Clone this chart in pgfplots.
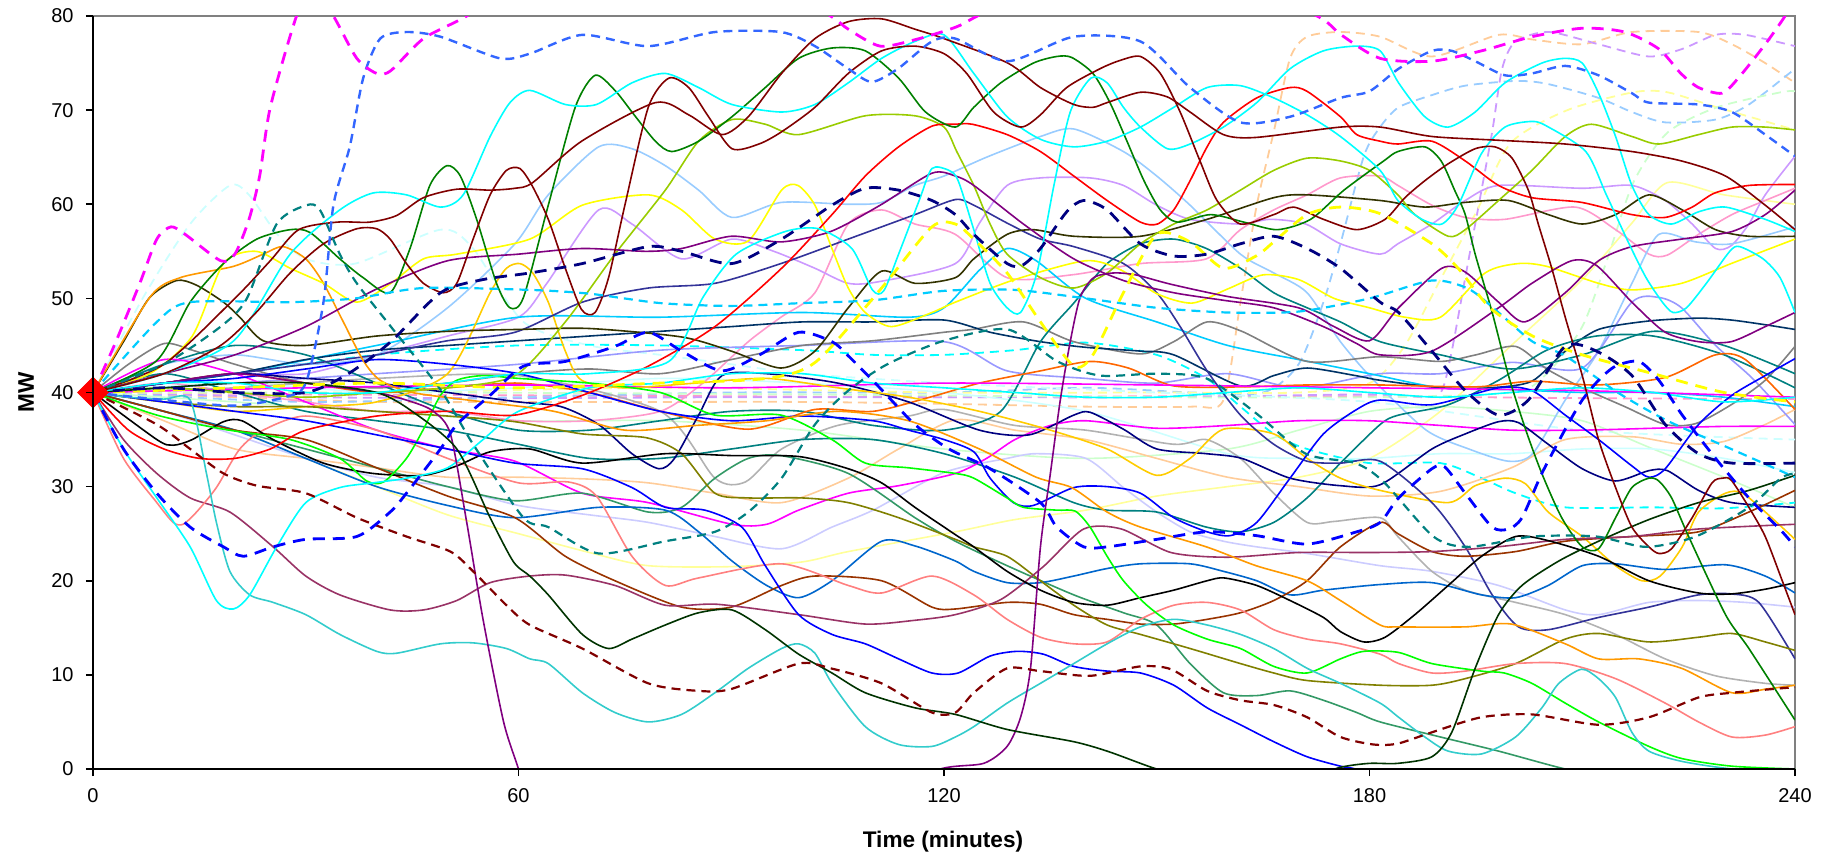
\documentclass[border=0pt]{standalone}
\usepackage{pgfplots}
\pgfplotsset{compat=1.18}
\usepackage{fontspec}
\setmainfont{Liberation Sans}
\definecolor{cMag}{HTML}{FF00FF}
\definecolor{cRoy}{HTML}{3366FF}
\definecolor{cTeal}{HTML}{008080}
\definecolor{cPaleC}{HTML}{CCFFFF}
\definecolor{cSky}{HTML}{00CCFF}
\definecolor{cDOl}{HTML}{333300}
\definecolor{cOra}{HTML}{FF9900}
\definecolor{cGrn}{HTML}{008000}
\definecolor{cCyan}{HTML}{00FFFF}
\definecolor{cDRed}{HTML}{800000}
\definecolor{cTurq}{HTML}{33CCCC}
\definecolor{cPlum}{HTML}{993366}
\definecolor{cBlue}{HTML}{0000FF}
\definecolor{cNavy}{HTML}{000080}
\definecolor{cSalm}{HTML}{FF8080}
\definecolor{cPurp}{HTML}{800080}
\definecolor{cDGrn}{HTML}{003300}
\definecolor{cLime}{HTML}{00FF00}
\definecolor{cYel}{HTML}{FFFF00}
\definecolor{cYG}{HTML}{99CC00}
\definecolor{cLBlue}{HTML}{99CCFF}
\definecolor{cRed}{HTML}{FF0000}
\definecolor{cPink}{HTML}{FF99CC}
\definecolor{cLav}{HTML}{CC99FF}
\definecolor{cPeach}{HTML}{FFCC99}
\definecolor{cLYel}{HTML}{FFFF99}
\definecolor{cLGrn}{HTML}{CCFFCC}
\definecolor{cOlive}{HTML}{808000}
\definecolor{cGray}{HTML}{808080}
\definecolor{cSilv}{HTML}{B2B2B2}
\definecolor{cBrown}{HTML}{993300}
\definecolor{cSea}{HTML}{339966}
\definecolor{cDTeal}{HTML}{003366}
\definecolor{cIndigo}{HTML}{333399}
\definecolor{cGold}{HTML}{FFCC00}
\definecolor{cOra2}{HTML}{FF6600}
\definecolor{cPeri}{HTML}{9999FF}
\definecolor{cLLav}{HTML}{CCCCFF}
\definecolor{cOcean}{HTML}{0066CC}
\pgfplotsset{
  ln/.style={line width=0.8pt},
  dsh/.style={line width=0.9pt, dash pattern=on 4.5pt off 3pt},
  tdsh/.style={line width=1.4pt, dash pattern=on 6pt off 4pt},
}
\begin{document}
\begin{tikzpicture}
\useasboundingbox (-46.5pt,-44pt) rectangle (864.5pt,384.5pt);
\draw[cGray, line width=1pt] (0,376.5pt) -- (851pt,376.5pt) -- (851pt,0);
\begin{axis}[
  at={(0,0)}, anchor=south west,
  width=851pt, height=376.5pt, scale only axis,
  xmin=0, xmax=240, ymin=0, ymax=80,
  xtick={0,60,120,180,240}, ytick={0,10,...,80},
  axis lines*=left,
  axis on top,
  axis line style={black, line width=1pt},
  tick align=outside, major tick length=3.5pt,
  tick style={black, line width=0.8pt},
  ticklabel style={font=\fontsize{10}{12}\selectfont},
  /pgf/number format/assume math mode=true,
  xticklabel style={anchor=north, inner sep=0pt, yshift=-6pt},
  yticklabel style={anchor=east, inner sep=0pt, xshift=-6pt},
  clip mode=individual,
  every axis plot/.append style={mark=none, smooth, tension=0.45},
]
% pastel dashed lines in the bundle
\addplot[dsh, cPink] coordinates {(0,40)(30,39.8)(60,39.7)(90,39.6)(120,39.5)(150,39.6)(180,39.6)(210,39.4)(240,39.3)};
\addplot[dsh, cPeach] coordinates {(0,40)(20,39.5)(40,39)(60,39)(80,39)(100,39)(120,38.8)(140,38.5)(155,38.5)(159.4,39.2)(161.8,49.6)(164.1,59.9)(166.5,67.7)(168.8,75.5)(171.2,77.8)(175.9,78.3)(181.5,77.8)(188.8,75.7)(198.2,78)(203,77.5)(210,77)(217,78.3)(226.4,78.3)(231.1,77)(235.8,75)(240,72.9)};
\addplot[dsh, cLav] coordinates {(0,40)(30,39.5)(60,39.4)(90,39.5)(120,39.5)(150,39.5)(180,39.8)(188,39.5)(190.2,40.2)(191.6,44.4)(193.5,52.2)(195.4,59.9)(197.3,67.7)(198.7,74.4)(200.6,77.3)(205.3,78.3)(212.3,77)(219.4,75.7)(224.1,76.5)(228.8,78)(233,78)(240,76.8)};
\addplot[dsh, cLBlue] coordinates {(0,40)(30,39)(60,39.5)(90,40)(120,40)(140,40.5)(155,40)(165,40)(170,43)(173.5,49.6)(175.9,55.8)(179.2,65.1)(181.5,68.2)(184.1,70.3)(188.8,71.6)(193.5,72.6)(200.6,73.1)(205,72.8)(212.3,71.3)(217,69.8)(221.7,68.7)(228.8,69)(233.5,70.6)(240,74.4)};
\addplot[dsh, cLYel] coordinates {(0,40)(40,40)(80,40.5)(120,40)(150,40)(170,40)(180,41)(185,45)(190,52)(195.2,59.4)(199.9,66.5)(207.9,70)(217.2,71.9)(222,71.9)(229,70.3)(240,67.9)};
\addplot[dsh, cLGrn] coordinates {(0,40)(50,40)(100,39.8)(150,39.5)(180,39.5)(200,40)(205,42)(210,47)(213.5,54.1)(217.2,62.3)(222,67.6)(229,70.3)(238,71.9)(240,72)};
\addplot[dsh, cPaleC] coordinates {(0,40)(7,50)(13.7,57.9)(19.3,62)(22,61)(26,56.8)(30,54.2)(37,53.7)(49,57.3)(53.6,55.3)(60.7,47.5)(70,45)(80,44)(90,43)(100,42)(120,41)(150,40)(180,39)(210,36)(240,35)};
\addplot[dsh, cCyan] coordinates {(0,40)(20,42)(40,44)(60,45)(80,45)(100,44.5)(110,44)(120,44)(130,44.5)(140,45.3)(150,44)(157,41.5)(161.8,38.5)(166.5,35.6)(171.2,34)(180,32.5)(190,32.5)(195.8,30.9)(200.6,29.3)(207.6,27.8)(220,27.8)(230,27.7)(240,28.3)};
% pastel solid lines
\addplot[ln, cLYel] coordinates {(0,40)(10,38)(20,36)(30,33)(40,30)(50,27)(60,25)(70,23)(78.3,21.6)(90,21.5)(100,22)(106.5,23.1)(121.6,25.2)(130,26.5)(140,27.5)(150,29)(160,30)(170,31)(180,33)(190,38)(200,45)(210,52)(217,58)(222,62.3)(230,61)(240,60)};
\addplot[ln, cLGrn] coordinates {(0,40)(20,39)(40,38)(60,37)(80,37)(100,36)(120,34)(140,33)(160,34)(170,36)(180,38)(190,38.5)(200,38)(210,37)(220,34)(230,31)(240,27.8)};
\addplot[ln, cPaleC] coordinates {(0,40)(20,41)(40,40)(60,40.5)(80,41.5)(100,41)(120,40)(140,38)(160,33.5)(170,33)(180,33)(190,33.5)(200,33.5)(210,34)(220,34)(230,33)(240,31.5)};
\addplot[ln, cPeach] coordinates {(0,40)(10,37)(20,34)(30,33)(40,32)(50,31)(60,31)(70,30.8)(78.3,30.4)(87.7,29.3)(97.1,28.3)(106.5,30.9)(113.6,34)(121.6,37.1)(130,36)(140,35)(150,33)(160,31)(170,30)(180,29)(190,29.5)(200,32)(207.6,35)(217,35.3)(224,34.5)(230,34.8)(235.8,36.6)(240,38.2)};
\addplot[ln, cLLav] coordinates {(0,40)(10,38)(20,35.5)(30,33)(40,31)(50,30)(60,28)(70,27)(78.3,26.2)(87.7,24.7)(97.1,23.4)(104.2,25.7)(110,27.5)(120,31.5)(128.9,33)(133,33.5)(140,33)(145.3,29.9)(150,27.3)(154.7,25.2)(159.4,24.2)(164.1,23.6)(171.2,22.9)(181.5,21.6)(188.8,21)(198.2,19.5)(207.6,16.9)(212.3,16.4)(219.4,17.7)(226.4,17.9)(233,17.7)(240,17.2)};
\addplot[ln, cPink] coordinates {(0,40)(10,41)(20,40)(30,39)(40,38)(50,38)(60,37)(70,37)(80,38)(86,41)(92.4,45.4)(97,48)(101.8,50.6)(106.5,57.9)(111.2,59.4)(115.9,57.9)(121.6,56.8)(128.9,52.2)(138,52.5)(147.7,53.7)(157,54.2)(161.8,57.3)(166.5,59.4)(171.2,61)(175.9,62.8)(181.5,63)(184,62)(188.8,59.9)(193.5,58.6)(199.1,58.4)(209,59.7)(214.7,57.3)(219.4,54.7)(222,54.6)(226.4,56.8)(231.1,58.9)(235.8,60.4)(240,61.7)};
\addplot[ln, cLav] coordinates {(0,40)(10,41)(20,42)(30,42)(40,44)(50,46)(60,48)(64,51.6)(71.3,59.4)(76,57.9)(83,54.2)(90.1,56.3)(96,55)(101.8,53.2)(106.5,51.6)(111,51.8)(121.6,53.7)(125,58)(128.9,62)(133.6,62.8)(140.6,62.8)(145.3,62)(150,59.9)(154.7,58.4)(161.8,57.9)(166,58.4)(171,57.9)(175.9,55.8)(181.5,54.7)(184,55.8)(188.8,57.9)(193.5,60.4)(198.2,62)(210,61.7)(217,62)(221.7,60.4)(225.5,57.9)(228.8,55.3)(231,55.6)(233.5,57.9)(235.8,61)(240,65.1)};
\addplot[ln, cLBlue] coordinates {(0,40)(10,43)(20,44)(30,43)(40,44)(50,49)(59.5,55.8)(64.2,61)(71.3,66.1)(76,65.9)(80.7,64.1)(85.4,61.5)(90.1,58.6)(97.1,60.2)(106.5,60)(111.2,60.2)(115.9,62)(120,63)(126,65)(133.6,67.2)(138.3,68)(145.3,65.6)(150,63)(154.7,59.9)(161.8,54.7)(166.5,52.7)(171.2,50.6)(175.9,45.4)(180.6,41.3)(188,36)(194,34)(199.6,32.7)(203,33.5)(207.6,39.2)(212.3,44.4)(217,51.6)(220.8,56.8)(226,56)(231.1,55.8)(240,57.6)};
\addplot[ln, cPeri] coordinates {(0,40)(20,41)(40,42)(60,43)(80,44.5)(100,45)(120,45.4)(128.9,42.3)(140,41.5)(150,41)(160,42)(170,40.5)(181.5,42)(190,42)(200,43.2)(210,42.6)(217,49.6)(220.8,50.1)(224,49)(228.8,45)(234,41.5)(240,36.6)};
\addplot[ln, cSilv] coordinates {(0,40)(20,40.5)(40,41.5)(60,41.8)(80,38)(87.7,30.9)(92,30.5)(97.1,34)(105,36.5)(115,37.5)(120,38.2)(130,36.5)(140,36)(152.4,34.5)(157,35)(161.8,33)(166.5,29.3)(171.2,26.2)(175,26.3)(181.5,26.7)(184,24.7)(188.8,21)(193.5,19)(200.6,17.7)(207.6,16.4)(214.7,14.3)(221.7,11.7)(228.8,9.9)(235.8,9.1)(240,8.9)};
\addplot[ln, cSky] coordinates {(0,40)(20,42)(40,45)(60,48)(80,48)(100,48.5)(115,48)(120,49)(125,53)(128.9,55.3)(133,54)(140,50)(150,47.5)(160,45)(170,43.5)(180,42)(190,40.5)(200,40.3)(210,40)(220,40)(230,39.5)(240,38.5)};
% mid-bundle solid lines
\addplot[ln, cGray] coordinates {(0,40)(5,43)(10,45.2)(14,44.5)(20,43)(30,41)(40,40.5)(50,41)(60,42)(70,42.5)(80,42)(90,43.5)(100,45)(110,45.5)(120,46.4)(124,46.7)(131.2,47.5)(138.3,45.4)(147.7,44.1)(152.4,45.4)(157.1,47.5)(162,46.5)(171.2,43.3)(181.5,43.8)(190,43.3)(195,44)(200.6,44.9)(205,42.5)(210,40.5)(216,38.5)(221.7,36.6)(226,36.7)(231,38.7)(235.8,41.3)(240,44.9)};
\addplot[ln, cDTeal] coordinates {(0,40)(10,41)(20,42)(30,43.5)(40,44.5)(50,45)(60,45.5)(70,46)(80,46.5)(90,47)(100,47.5)(110,47.5)(120,47.7)(126.5,46.4)(133.6,45.4)(140,44.8)(147.7,44.4)(152.4,44)(161.8,40.7)(166.5,41.8)(171.2,42.6)(178,41.8)(181.5,41.3)(190,40.5)(197,40.5)(202.9,41.2)(207.6,44.4)(212.3,46.7)(219.4,47.6)(226.4,47.9)(231,47.7)(235.8,47.2)(240,46.7)};
\addplot[ln, cTeal] coordinates {(0,40)(10,43)(20,45)(30,44)(40,41)(50,38)(60,36)(70,36)(80,37)(90,38)(100,38)(110,36.5)(120,36)(128,38)(133.6,45.4)(138.3,49.5)(143,53.7)(147.7,55.8)(152.4,56.3)(157,55.3)(161.8,53.2)(166.5,50.6)(171.2,49)(175.9,47.5)(181.5,45.4)(190,44)(200,42.5)(210,44)(220,46.5)(230,45)(240,42)};
\addplot[ln, cTeal] coordinates {(0,40)(10,42)(20,40)(30,38)(40,37)(50,36)(60,34.5)(70,33)(80,33)(90,34)(100,35)(110,35)(120,33.5)(130,31)(138.3,28.3)(143,27.5)(150,27.3)(157,25.7)(161.8,25.2)(166.5,26.2)(171.2,28.8)(175.9,32.5)(181.5,36.6)(184.1,37.6)(191.1,38.7)(198.2,41.3)(205,44.5)(212,46)(220,46)(230,44)(240,40.5)};
\addplot[ln, cOra2] coordinates {(0,40)(10,41)(20,42)(30,41)(40,40)(50,40.5)(60,41)(70,40)(80,38)(92.4,36.1)(101.8,38.2)(110,38)(118,39.5)(125,41)(133.6,42.3)(140.6,43.3)(146,42.6)(152.4,40.7)(162,40.6)(171.2,40.8)(181.5,40.8)(195,40.6)(202.9,41.2)(212,40.8)(221.7,41.6)(228.8,44)(233,43.5)(240,38.2)};
\addplot[ln, cMag] coordinates {(0,40)(30,40.5)(60,40.8)(90,40.5)(120,41)(150,40.8)(180,40.5)(210,40.2)(240,39.5)};
\addplot[ln, cMag] coordinates {(0,40)(10,43.5)(20,42)(30,39)(40,36)(50,34)(59.5,32.7)(69,29.3)(78.3,28.3)(90.1,26)(95,26)(99.5,27.5)(106.5,29.3)(113.6,30.1)(121.6,31.4)(126,33)(130,35)(135,36.5)(140,37)(150,36.2)(160,36.5)(170,37)(180,37)(190,36.5)(200,36)(210,36)(220,36.2)(230,36.4)(240,36.4)};
\addplot[ln, cNavy] coordinates {(0,40)(10,41)(20,42)(30,41.5)(40,41)(50,40)(60,39)(66,38.5)(71.3,36.6)(76,33.5)(79.8,31.9)(82,33)(85.4,37.6)(88.7,41.8)(95,42)(105,41)(115,39)(125,36)(132,35.5)(138.3,37.6)(140.6,37.9)(145.3,36.1)(150,34)(157,33.5)(162,33)(168.8,30.9)(175.9,30.1)(181.5,30.2)(188.8,34)(193.5,35.6)(198.2,36.9)(201,36.8)(205.2,34.5)(210,31.9)(214.7,30.6)(219.4,31.7)(222,31.7)(226.4,29.6)(231.1,28.3)(240,27.8)};
\addplot[ln, cGold] coordinates {(0,40)(10,39)(20,38)(30,38.5)(40,39)(50,42)(56,50.6)(58.3,53.2)(60.2,53.7)(62,52.7)(64.2,49.6)(66.6,44.4)(68.9,41.3)(75,40.5)(85,41)(95,41.5)(105,40.5)(115,39.5)(125,38)(135,36)(143,34)(150,31.2)(154.7,33)(159.4,36.1)(166.5,35.6)(171.2,33)(175.9,30.9)(181.5,29.6)(191.1,28.3)(194.9,30.1)(199.1,30.9)(202,30.3)(205.2,27.3)(210,24.7)(214.7,21.6)(218.4,20)(221,20.5)(224.1,23.6)(226.4,27.3)(230.2,29.3)(233,29.1)(240,24.4)};
\addplot[ln, cIndigo] coordinates {(0,40)(10,41)(20,42)(30,43)(40,44)(50,45.5)(59.5,46.4)(69,49.6)(78.3,51.1)(87.7,51.6)(97,53.7)(106.5,56.3)(115.9,58.9)(121.6,60.5)(124.2,59.9)(128.9,58)(133.6,56.3)(138.3,55.5)(145.3,53.7)(150,50.6)(153.3,47)(157.1,42.3)(161.8,37.6)(166.5,34.5)(171.2,32.7)(175.9,32.5)(181.5,32.7)(188.8,28.3)(193.5,23.6)(197.3,18.5)(201,15.1)(205.2,14.8)(212.3,16.1)(219.4,17.2)(226.4,18.5)(231,18.6)(234.9,17.7)(240,11.7)};
\addplot[ln, cBlue] coordinates {(0,40)(10,41)(20,41.5)(30,42.5)(40,43.5)(50,43)(60,42)(70,40)(80,38)(90,37)(100,37.5)(110,37)(115,36)(120,35)(124.2,33.7)(126.5,30.9)(129.8,28.3)(132.6,28)(138.3,29.9)(143,30)(147.7,29.3)(152.4,26.7)(157.1,25.2)(160.4,24.8)(164.1,26.2)(168.8,30.9)(173.5,35.6)(178.2,38.2)(181.5,39.2)(188.8,38.7)(198.2,40.5)(202.9,40.2)(207.6,37.6)(212.3,35)(217,32.2)(219.4,31)(221.7,31.9)(226.4,36.6)(231.1,39.7)(235.8,41.8)(240,43.6)};
\addplot[ln, cSea] coordinates {(0,40)(10,38)(20,36)(30,34)(40,32)(50,30)(59.5,28.5)(69,29.3)(78.3,27.3)(83,27.8)(87.7,30.9)(92.4,33)(97,33.3)(106.5,31.4)(115.9,26.7)(121.6,24.2)(128.9,21.6)(138.3,18.5)(145.3,16.6)(150,15.3)(154.7,11.2)(159.4,8.1)(164.1,7.8)(168.8,8.3)(173.5,7.3)(178.2,6)(181.5,5)(190,3.4)(198.2,1.9)(207.6,0)(215,-1)};
\addplot[ln, cOcean] coordinates {(0,40)(10,38)(20,36)(30,33)(40,30)(50,28)(59.5,26.7)(71.3,27.8)(80.7,27.5)(85.4,25.2)(90.1,22.1)(95,19.5)(99.5,18.2)(104.2,20)(111.2,24.2)(115.9,23.7)(121.6,22.1)(124.2,21)(128.9,19.8)(133.6,19.8)(138.3,20.5)(143,21.3)(147.7,21.8)(154.7,21.8)(159.4,21)(164.1,20)(168.8,18.5)(173.5,19)(181.5,19.6)(188.8,19.8)(195.8,18.5)(200.6,18.2)(205.2,19.5)(210,21.6)(214.7,21.8)(221.7,21.2)(230.2,21.7)(235.8,20.5)(240,18.7)};
\addplot[ln, cBrown] coordinates {(0,40)(10,38)(20,36)(30,35)(40,32)(50,29)(59.5,26.7)(66.6,22.6)(73.6,20)(83,17.2)(90,17.2)(97.1,19.5)(101.8,20.5)(111.2,20)(118.3,17.2)(121.6,17)(128.9,17.7)(133.6,17.5)(138.3,16.4)(143,15.9)(147.7,15.4)(152.4,15.4)(157.1,15.9)(161.8,16.6)(166.5,17.9)(171.2,20)(175.9,23.6)(181.5,26.2)(184,25)(188.8,23.1)(193.5,22.6)(200.6,23.1)(207.6,24.2)(217,24.7)(226.4,25.2)(233.5,27.3)(240,29.6)};
\addplot[ln, cOlive] coordinates {(0,40)(10,39)(20,38.5)(30,38.5)(40,38)(50,37.5)(59.5,36.9)(69,35.6)(78,35.2)(83,33.5)(87.7,29.3)(92.4,28.8)(100,28.8)(106.5,28.3)(113.6,26.7)(121.6,24.4)(124.2,23.6)(128.9,22.6)(133.6,20)(138.3,17.4)(143,15.3)(147.7,14.3)(154.7,12.8)(161.8,11.2)(166.5,10.2)(171.2,9.4)(181.5,8.9)(188.8,8.9)(193.5,9.6)(200.6,11.2)(207.6,13.8)(212.3,14.4)(219.4,13.5)(226.4,14)(231.1,14.4)(235.8,13.5)(240,12.6)};
\addplot[ln, cPlum] coordinates {(0,40)(4.3,35)(9,31.4)(13.7,28.8)(19.3,27.3)(25.4,23.6)(30,20.5)(34.8,18.5)(41.9,16.9)(46.6,16.9)(51.3,17.9)(56,19.8)(61.6,20.5)(66.6,20.6)(73.6,19.5)(80.7,17.4)(88,17.5)(99.5,16.4)(108.9,15.4)(115.9,15.8)(121.6,16.4)(128,18)(134,21.5)(139.7,25.5)(145,25.5)(152,23)(160,22.5)(170,23)(180,23)(188.8,23.1)(198,23.6)(207.6,24.4)(217,24.7)(226.4,25.5)(240,26)};
\addplot[ln, cSalm] coordinates {(0,40)(4.3,33)(9,28.3)(11.3,26.2)(12.7,26)(14.6,27.3)(17.4,29.9)(20.7,34)(24,36)(30,37.5)(40,36)(50,33)(60,30.4)(67,30.5)(71,29)(76,22.6)(80.7,19.5)(85.4,20.3)(97.1,21.8)(106.5,19.5)(111.2,18.7)(118.3,20.5)(124.2,18.5)(128.9,15.9)(133.6,14)(138.3,13.3)(143,13.5)(147.7,15.9)(152.4,17.4)(157.1,17.7)(161.8,16.9)(166.5,14.8)(171.2,13.8)(175.9,13.3)(181.5,12.2)(184.1,11.2)(188.8,10.2)(193.5,10.4)(200.6,11.2)(207.6,11.2)(214.7,9.6)(221.7,7)(226.4,5)(231.1,3.4)(235.8,3.6)(240,4.5)};
\addplot[ln, black] coordinates {(0,40)(9,35)(11.3,34.4)(14,35)(18.4,36.9)(21,37)(25.4,35)(32.5,32.5)(39.5,31.4)(46.6,31.2)(51.3,32.2)(56,33.7)(61.6,34)(69,32.5)(80.7,33.5)(90,33.3)(99.5,33.2)(106.5,31.9)(111.2,30.4)(115.9,27.8)(121.6,24.9)(124.2,23.6)(128.9,21)(133.6,19)(138.3,17.7)(143,17.4)(147.7,18.2)(152.4,19)(157.1,20)(159.5,20.3)(164.1,19.5)(168.8,17.9)(173.5,16.1)(175.9,14.6)(179.2,13.5)(182.2,14)(186.4,16.4)(191.1,19.5)(195.8,22.6)(200.6,24.7)(205,24.3)(212.3,22.6)(219.4,20)(226.4,18.7)(231,18.6)(235.8,19.1)(240,19.8)};
\addplot[ln, cLime] coordinates {(0,40)(9,37.6)(18.4,36.1)(27.8,35)(34.8,33)(38.6,30.6)(41,30.5)(44.2,33)(46.6,36.1)(49,39.7)(51.3,41.3)(55,41.8)(60,41.5)(70,41)(80,40)(87.7,37.6)(97,37.6)(104.2,35)(108.9,32.5)(115,32)(121.6,31.4)(124.2,30.9)(128.9,28.8)(131.2,27.8)(135.9,27.5)(138.5,27.4)(140.6,25.7)(143,22.6)(145.3,20)(148.6,17.4)(152.4,15.3)(157.1,13.8)(161.8,12.8)(166.5,10.9)(171.2,10.2)(175.9,11.7)(179.2,12.5)(184,12.4)(188.8,11.2)(195.8,10.4)(199,10.2)(202.9,9.1)(207.6,7)(212.3,5)(219.4,2.4)(224.1,1.1)(231.1,0.3)(240,0)};
\addplot[ln, cBlue] coordinates {(0,40)(10,39)(20,38)(30,37)(40,35.5)(50,34)(59.5,32.5)(69,31.9)(76,29.9)(80.7,27.8)(86.3,27.5)(91.5,25.7)(94.8,21.6)(99.5,16.4)(104.2,14.3)(108.9,13.3)(113.6,11.7)(118.3,10.2)(122,10.2)(126.5,12)(130.3,12.5)(134,12.2)(138.3,10.9)(143,10.4)(147.7,10.2)(152.4,8.9)(157.1,6.5)(161.8,4.7)(166.5,2.9)(171.2,1.3)(175.9,0.3)(178,0)(185,-1.5)};
\addplot[ln, cTurq] coordinates {(0,40)(5,39.5)(10,39.3)(13.7,39.2)(16,31.4)(17.4,26.2)(19.3,21)(22.1,18.5)(25.4,17.7)(30,16.4)(34.8,14.3)(40,12.5)(42.8,12.3)(49,13.3)(53.6,13.4)(58.3,12.8)(61.6,11.7)(64.2,11.2)(69,8.1)(73.6,6)(78.3,5)(83,5.8)(87.7,8.1)(92.4,10.7)(97.1,12.8)(99.5,13.3)(101.8,12.3)(104.2,9.1)(108.9,4.5)(113.6,2.6)(118.3,2.4)(121.6,3.4)(124.2,4.5)(128.9,7)(133.6,9.1)(138.3,11.2)(143,13.3)(147.7,15.1)(152.4,15.9)(157.1,15.3)(161.8,14.3)(166.5,12.8)(171.2,10.7)(175.9,9.1)(181.5,7)(184.1,5.5)(187.8,3.4)(191.1,1.9)(195.8,1.6)(200.6,3.4)(204.3,6.5)(206.7,9.1)(209.9,10.6)(212.3,9.6)(214.7,7.6)(217,3.9)(219.4,1.9)(224.1,0.8)(231.1,0)(240,-0.5)};
\addplot[ln, cCyan] coordinates {(0,40)(4.3,34)(9,28.8)(13.7,23.6)(17.4,17.9)(19.8,17)(22.1,18.5)(25.9,23.6)(30,28.3)(34.8,29.9)(39.5,30.4)(44.2,30.9)(50,32)(55,35)(60,38)(70,40.5)(80,41)(90,42)(100,42)(110,41)(120,40.5)(130,40)(140,39.5)(150,39.5)(160,40)(170,40.5)(180,40)(190,39.5)(200,40)(210,40.5)(220,40)(230,39)(240,39.5)};
% distinctive lines
\addplot[ln, cDOl] coordinates {(0,40)(4.3,45.4)(8,50.1)(11.8,51.9)(14.6,51.4)(18.4,49.6)(20.7,48)(24,45.5)(30,45)(40,46)(50,46.5)(60,46.7)(70,46.8)(83,45.9)(90,44.4)(97,42.6)(101.8,44.4)(106.5,49)(111.2,52.9)(115.9,51.6)(121.6,52.2)(124.2,54.2)(128.9,56.8)(132.6,57.3)(138.3,56.6)(147.7,56.6)(157.1,58.4)(166.5,60.7)(171.2,61)(181.5,60.4)(187.8,59.7)(193.5,60.2)(199.6,60.4)(205.2,58.9)(210,57.9)(214.7,58.9)(219.4,61)(224.1,59.4)(228.8,57.3)(233.5,56.6)(240,56.6)};
\addplot[ln, cOra] coordinates {(0,40)(8,50.1)(12.3,52.2)(19.8,53.4)(24,54.7)(26.8,55.5)(30,54.2)(32.5,51.6)(35.3,47.5)(38.1,43.4)(40.5,41.3)(45,40)(55,39)(65,38)(75,36)(85,36.5)(95,37)(105,38)(115,37)(125,34)(133,31)(138,29.9)(143,27.3)(147.7,25.7)(157,23.6)(164,21.6)(171.2,20)(175.9,17.9)(181.5,15.3)(184.1,15.1)(193.5,15.1)(200,15.4)(207.6,13.3)(212.3,11.7)(218,11.7)(224,10.7)(231.1,8.1)(236,8.5)(240,8.9)};
\addplot[ln, cYel] coordinates {(0,40)(8,42)(14,46)(18.4,53.7)(23,55)(27.8,53.2)(32.5,51.6)(37.2,49.6)(42,51.6)(46.6,54.2)(51.3,54.7)(61.6,56.3)(69,59.9)(78.3,61)(83,59.4)(87.7,56.3)(92.4,56.1)(97.1,61.5)(99.4,62)(101.8,59.9)(104.2,55.3)(106.5,51.1)(108.9,48.5)(112.6,47)(118.3,48.5)(121.6,49.6)(130,52)(140,54)(145,53)(150,50.5)(155,49.5)(160,51)(165,52.5)(170,52)(175,50)(180,49)(185,48)(190,48)(196.3,52.7)(201,53.7)(205,53.4)(212.3,51.6)(217,50.9)(224,51.6)(231,53.7)(240,56.3)};
\addplot[ln, cYG] coordinates {(0,40)(10,40.5)(20,40)(30,39.5)(40,40)(50,40.5)(59.5,41.8)(66.6,47.5)(73.6,54.7)(80.7,61.5)(85.4,66.7)(90.1,69)(94.8,68.5)(99.5,67.4)(108.9,69.4)(115.9,69.4)(120,68.2)(121.8,65.6)(124.2,62)(126.5,57.9)(128.9,54.7)(133.6,52.2)(138.3,51.1)(143,52.7)(147.7,55.8)(152.4,57.9)(157.1,59.4)(161.8,61.5)(166.5,63.6)(171.2,64.9)(175.9,64.6)(180,63.6)(184,61)(186.4,58.9)(191.1,56.6)(193.5,57.3)(198.2,60.4)(202.9,63.6)(207.6,67.2)(211.3,68.5)(217,67.2)(220.8,66.4)(226.4,67.4)(231.1,68.2)(235.8,68.2)(240,67.9)};
\addplot[ln, cRed] coordinates {(0,40)(5,36)(10,34)(15,33)(20,33)(25,34)(30,36)(40,37.5)(50,38)(59.5,37.6)(69,39.7)(78.3,42.8)(87.7,47)(97.1,53.2)(104.2,58.9)(108.9,63)(113.6,66.1)(118.3,68.3)(121.6,68.5)(124,68.5)(128.9,67.4)(133.6,65.6)(138.3,63)(143,60.4)(147.7,58.1)(150.1,57.9)(152.4,59.4)(154.7,62.5)(157.1,66.1)(159.4,68.7)(164.1,71.3)(168.8,72.4)(171.2,72)(175.9,69.3)(178.2,67.4)(181.5,66.7)(184,66.4)(188.8,66.7)(193.5,64.6)(198.2,62)(202.9,60.7)(209.9,60.2)(217,58.9)(221.7,58.6)(225.5,59.7)(228.7,61.2)(233.5,62)(240,62.1)};
\addplot[ln, cPurp] coordinates {(0,40)(10,42)(20,44)(30,47)(40,51)(50,54)(60,54.7)(69,55.3)(78,55)(83,55.3)(90,56.6)(97,56)(104,57.1)(111,59.9)(118.3,63.3)(121.6,63)(124.2,62)(131.2,57.9)(138.3,54.2)(145.3,51.9)(152.4,50.6)(159.4,49.8)(166.5,49)(173.5,47)(178.2,45.2)(181.5,44)(188.8,44.4)(198.2,49)(202.9,51.6)(208.5,54)(212,53.5)(217,49.6)(221.7,46.4)(226.4,45.4)(231,45.4)(235.8,47)(240,48.5)};
\addplot[ln, cPurp] coordinates {(0,40)(10,41)(20,42)(30,41)(40,40)(45,39)(48,38)(50.4,35.6)(52.7,26.2)(55,15.9)(57.9,5)(60,0)(61,-3)};
\addplot[ln, cPurp] coordinates {(110,-3)(119.5,0)(125.6,0.6)(128.9,2.4)(130.8,5.5)(132.2,10.7)(133.6,23.6)(135,31.4)(136.4,39.2)(137.8,45.4)(139.2,50.1)(141.1,52.2)(143.9,52.7)(147,52.5)(152,51.5)(160,50.2)(170,49)(175,47)(180,45.5)(184.1,49)(190.2,53.2)(193.5,52.8)(198.2,49.6)(201.9,47.5)(207.6,50.6)(212.3,54)(217,55.5)(224,56.3)(231.1,57.1)(235.8,58.9)(240,61.5)};
\addplot[ln, cDGrn] coordinates {(0,40)(10,40.5)(20,41)(30,41)(40,40)(45,38)(51.3,34)(56,26.7)(59.3,22)(61.6,20.5)(64.2,18.5)(69,14.3)(72.7,12.8)(76,13.8)(80.7,15.3)(85.4,16.6)(90.1,16.9)(94.8,14.8)(99.5,12.2)(104.2,10.2)(108.9,8.1)(115.9,6.5)(121.6,5.8)(128.9,4.2)(138.3,2.9)(143,1.9)(147.7,0.6)(150,0)(155,-1)(170,-1)(176,0.2)(180,0.6)(184,0.6)(188.8,1.3)(191.6,3.9)(194.9,10.7)(198.2,16.4)(201.5,19.5)(206.7,22.1)(212.3,24.2)(219.4,26.5)(226.4,28.3)(233.5,29.6)(240,31.2)};
\addplot[ln, cGrn] coordinates {(0,40)(9,43.4)(13.7,49.6)(18.4,53.7)(23.1,56.3)(27.8,57.3)(30.6,57)(34.8,54.2)(38.1,52.2)(41.9,50.6)(44.7,55.3)(47.5,62)(49.9,64.1)(51.8,63)(54.1,58.4)(56.9,51.6)(58.8,49)(60.7,50.1)(64.2,59.9)(68,70.3)(70.8,73.7)(73.6,72.1)(76,69.8)(79.3,66.7)(81.6,65.6)(85.4,66.7)(90.1,69.3)(94.8,72.4)(99.5,75.5)(104.2,76.6)(108.9,76.3)(113.6,73.4)(117.4,69.8)(121.6,68.2)(124.2,70.3)(128,72.9)(132.6,75)(135.9,75.7)(138,75.6)(141,73.9)(143.4,70.8)(145.8,66.7)(148.2,62.5)(150.5,59.4)(152.9,58.1)(157.6,58.9)(162.3,58.1)(167,57.3)(171.7,58.4)(176.4,61.5)(182,64.6)(184,65.6)(187.8,66.1)(190.1,64.6)(192,61.5)(193.5,58.9)(194.9,54.7)(197.3,48.5)(199.6,41.8)(202,36.1)(204.3,31.4)(207.1,26.7)(210,23.6)(212.3,23.4)(214.7,26.7)(217,29.9)(219.4,30.9)(220.8,30.6)(222.6,28.8)(225,24.7)(230.2,16.4)(233.5,12.8)(240,5.2)};
\addplot[ln, cCyan] coordinates {(0,40)(10,42)(20,45.6)(27.8,54.7)(34.8,59.4)(39.5,61.2)(44.2,61)(49,59.7)(52.2,61)(56,67.2)(58.8,70.8)(61.6,72.1)(66.6,70.6)(71,70.6)(76,72.9)(80.7,73.9)(85.4,72.4)(90.1,70.6)(97.1,69.8)(101.8,70.6)(106.5,72.9)(111.2,75.5)(115.9,77.3)(120,78)(124.2,73.9)(128.9,69.3)(133.6,66.9)(138.3,66.1)(143,66.7)(147.7,68.2)(152.4,70.3)(157.1,72.4)(161.8,72.6)(166.5,71.3)(171.2,69.5)(175.9,67.2)(181.5,63.6)(184,60.4)(187.4,58.4)(190.2,57.9)(192.5,59.9)(195.8,65.4)(199.1,68.2)(202.9,68.8)(205,68.3)(210.5,65.6)(213.4,61)(216.6,55.8)(219,52.2)(221.3,49.6)(222.8,48.5)(224.7,49)(227.5,51.6)(230.8,55)(232.2,55.5)(235.5,54.2)(237.9,52.2)(240,48.5)};
\addplot[ln, cCyan] coordinates {(0,40)(10,41)(20,41)(30,40)(40,40)(50,41)(60,42)(70,42)(81.2,43.3)(86,50.1)(90.7,54.7)(97.6,57.1)(102.3,57.4)(107,55.3)(109.9,50.9)(111.5,50.8)(113.6,54.7)(116.5,60.4)(118.3,63.8)(120.7,63.6)(122,62.5)(124.2,57.3)(126.5,51.6)(128.9,49)(130.8,48.5)(133.1,52.7)(135.5,62)(137.8,69.8)(140.7,73.4)(143,72.9)(145.3,70.3)(147.7,68.2)(151.5,65.9)(154.7,66.4)(159.4,68.2)(164.1,70.8)(168.8,74.4)(173.5,76.3)(178.2,76.8)(181.5,76.3)(184.1,72.9)(187.8,69.3)(191.1,68.2)(194.9,69.8)(199.1,72.9)(204.3,75)(207.6,75.5)(210,75)(212.3,71.8)(214.7,67.2)(217,62)(219.4,58.9)(222.6,57.9)(226.4,59.2)(230.2,59.7)(235.8,58.4)(240,57.1)};
\addplot[ln, cDRed] coordinates {(0,40)(10,43)(20,50)(25,54)(29,57.3)(34.4,58.1)(39,58.1)(42.8,58.8)(46.6,60.7)(51.3,61.6)(56,61.5)(59.5,61.7)(62,62.3)(68.9,66.7)(79.3,70.8)(84,69.5)(88.7,67.4)(92.4,69.3)(97.1,73.9)(101.8,77.6)(106.5,79.4)(111.2,79.7)(115.9,78.6)(120,77.6)(129,75)(133.6,72.4)(138.3,70.6)(141,70.3)(143,70.8)(147.7,71.9)(151.5,71.4)(154.7,69.8)(159.4,67.4)(164,67.1)(175.9,68.2)(181.5,68.2)(188.8,67.2)(198.2,66.8)(207.6,66.4)(217,65.6)(224,64.6)(230.2,63)(235.8,59.9)(240,57.3)};
\addplot[ln, cDRed] coordinates {(0,40)(10,42)(18,45)(23,48.5)(27.8,52.7)(32.5,55.8)(37.2,57.4)(40,57.4)(41.9,56.3)(44.2,53.7)(46.6,51.6)(49.4,50.6)(51.3,51.6)(53.6,56.3)(56,61)(58.3,63.6)(60.2,63.8)(61.9,62)(64.2,58.4)(66.6,53.2)(68.9,48.8)(70.8,48.5)(72.7,52.2)(75,59.9)(78.3,70.3)(81.2,73.4)(84,72.4)(86.8,69.3)(90.1,65.9)(93.9,66.4)(97.1,67.7)(101.8,70.3)(106.5,73.9)(111.2,76.3)(115.9,76.8)(120,76)(123.2,73.9)(127,69.8)(130.8,68.2)(133.6,69.5)(137.3,72.4)(142,74.4)(144.9,75.3)(147.7,75.7)(150.5,73.9)(153.3,69.8)(156.1,64.6)(158.5,60.4)(161.8,57.9)(166.5,58.9)(169.3,59.7)(173.5,58.4)(178.2,57.3)(182.2,58.4)(185,60.7)(187.8,62.5)(191.1,64.3)(194.9,65.9)(197.7,66.1)(200.1,64.9)(202.4,61.5)(203.8,57.9)(205.7,53.2)(207.6,48)(210,41.8)(212.3,35)(214.7,29.9)(217,25.7)(219.4,23.6)(220.8,22.9)(222.6,23.4)(225.5,26.7)(228.3,30.4)(229.8,30.9)(231,30.7)(233.5,27.8)(235.8,24.7)(238.2,20)(240,16.4)};
% dashed distinctive lines
\addplot[dsh, cSky, line width=1.1pt] coordinates {(0,40)(9,47.5)(13.7,49.6)(27.8,49.6)(37,50)(46.6,51.1)(61.6,50.9)(70,50.5)(80,49.5)(90,49.2)(100,49.5)(110,49.8)(120,50.8)(130,50.9)(140,50)(150,49)(160,48.5)(170,48.6)(180,50)(188.8,51.9)(194,51)(198.2,48.5)(203,45.4)(207.6,43.9)(215,40)(222,37)(231,34)(240,31)};
\addplot[dsh, cTeal, line width=1.1pt] coordinates {(0,40)(10,43)(18,47)(21.7,50)(25.9,57.9)(30.1,59.9)(32,59.4)(34.8,54.7)(37.2,51.6)(42,47)(49,40.3)(53.6,34.5)(60.7,26.7)(64.2,25.7)(71.3,22.9)(80.7,24.2)(87.7,25.2)(92.4,27.3)(97.1,30.9)(101.8,36.6)(106.5,40.2)(112,43)(120,45.5)(129,46.7)(136,43.3)(142,41.8)(150,42)(157,41.5)(164,37.8)(171,33.5)(178,32.5)(182,30.5)(189,24.7)(194,23.6)(203,24.7)(212,24.7)(219,23.6)(226,24.7)(233.5,27.8)(238,30.9)(240,31.4)};
\addplot[dsh, cDRed, line width=1.1pt] coordinates {(0,40)(9,36.6)(13.7,34)(18.4,31.4)(23.1,30.1)(30,29.3)(37.2,26.7)(44.2,24.7)(50.4,23.1)(53.6,21)(58.3,17.4)(61.6,15.3)(69,12.8)(78.3,9.1)(85.4,8.3)(90,8.5)(99.5,11.2)(104,10.7)(111.2,9.1)(118.3,6)(121.6,6)(124.2,8.1)(128.9,10.7)(133.6,10.4)(140.6,9.9)(147.7,10.9)(152,10.6)(157.1,8.3)(161.8,7.3)(166.5,6.8)(171.2,5.5)(175.9,3.4)(180.6,2.6)(184,2.7)(188.8,3.9)(195.8,5.5)(202.9,5.8)(212.3,4.7)(219.4,5.5)(226.4,7.6)(231.1,8.1)(240,8.7)};
\addplot[tdsh, cYel] coordinates {(0,40)(20,40.5)(40,41)(60,40.5)(80,41)(95,41.5)(102,43.3)(111.2,51.1)(118.3,57.6)(121.6,57.9)(124.2,56.3)(128.9,52.7)(133.6,47.5)(138.3,42.8)(141,44)(145.3,50.6)(150,56.8)(154.7,56)(159.4,53.2)(164,54.5)(166.5,56)(171.2,58.9)(175.9,59.7)(181.5,59)(188.8,55.8)(192.5,53.2)(197,49)(203,46)(210,44)(220,42)(230,40)(240,39)};
\addplot[tdsh, cNavy] coordinates {(0,40)(10,40.5)(20,40)(30,40)(36,42)(42,45.4)(49,50.6)(55,52)(61.6,52.7)(69,53.7)(78.3,55.5)(83,55)(90.1,53.7)(97.1,56.3)(104.2,59.9)(108.9,61.7)(113.6,61.5)(118.3,60.4)(121.6,58.9)(124.2,56.8)(128.9,53.7)(131,53.5)(133.6,55.3)(137.3,59.2)(139.7,60.4)(143,59.4)(147.7,55.8)(152.4,54.5)(157.1,54.7)(161.8,55.8)(166.5,56.6)(171.2,55.3)(175.9,53.2)(181.5,49.6)(184.1,48.5)(188.8,44.4)(193.5,40.2)(198.2,37.6)(202.4,39.2)(207.6,44.9)(212,44.4)(217,41.8)(221.7,36.6)(226.4,33.5)(231.1,32.5)(240,32.5)};
\addplot[tdsh, cBlue] coordinates {(0,40)(4.3,34)(9,29.3)(13.7,25.7)(18.4,23.6)(21.2,22.6)(25.4,23.6)(30,24.4)(37.2,24.7)(41.9,27.3)(44.2,29.3)(49,34)(51.3,36.6)(56,39.7)(60.7,42.8)(66.6,43.3)(73.6,44.9)(78.3,46.4)(83,44.4)(88.7,42.3)(94,44)(99.5,46.4)(104.2,45.4)(106.5,43.9)(111.2,40.3)(115.9,36.6)(120.7,34)(126.5,31.9)(133.6,28.3)(135.9,25.7)(139.7,23.6)(143,23.6)(150,24.4)(157.1,25.2)(164,24.8)(171.2,23.9)(178.2,25.2)(181.5,26.2)(184.1,28.8)(188.8,31.9)(190.6,32.1)(193.5,29.3)(197.3,25.7)(199.6,25.5)(201.5,26.7)(204.3,31.4)(207.6,36.1)(210,39.2)(212.3,41.3)(214.7,42.8)(218,43.3)(220.8,41.3)(224.1,37.6)(228.8,33)(233.5,28.8)(238.2,25.2)(240,23.6)};
\addplot[dsh, cRoy, line width=1.2pt] coordinates {(0,40)(10,39.2)(20,38.6)(27,39.5)(30,41)(32.5,49.6)(33.9,59.9)(36.2,66.1)(38.1,73.4)(40.5,77.6)(44.2,78.3)(49,77.8)(57.4,75.5)(61.6,76)(69,78)(78.3,76.8)(87.7,78.3)(97,78.3)(101.8,76.8)(106.5,74.4)(109.8,73)(113.5,74.4)(118.3,77.3)(121.6,77.6)(129,75.2)(138.3,77.8)(147.7,77.3)(154.7,72.4)(161.8,68.7)(168.8,69.3)(175.9,71.3)(180,72)(184.1,74.4)(188.8,76.3)(191.6,76.3)(194.9,75.2)(199.1,73.7)(202.9,73.9)(207.6,74.7)(212.3,73.7)(217,71.8)(219.4,70.8)(226.4,70.6)(231.1,69.8)(235.8,67.4)(240,65.1)};
\addplot[tdsh, cMag] coordinates {(0,40)(3,45)(6.6,51.6)(9,56.3)(11,57.6)(13,56.8)(18,54)(20,54.7)(22,58.4)(23.5,63)(25,70.3)(28.7,80)(31,83)(33.9,80)(37.2,75.5)(40,73.9)(42,74.2)(46.6,77.6)(52.7,80)(58,83)(70,85)(95,84)(104,80)(106.5,78.6)(111,76.8)(116,77.5)(121.6,78.8)(124.7,80)(135,84)(160,84)(172.6,80)(176,78)(181.5,75.5)(188.8,75.2)(195.8,76.3)(202.9,77.8)(210,78.7)(216,78.3)(220.8,76.5)(223.9,73.9)(226.4,72.4)(229.7,71.8)(232,73.4)(235.8,77)(238.6,80)(240,82)};
% start marker
\addplot[only marks, mark=square*, mark size=5.4pt, draw=red, fill=red, mark options={rotate=45, solid}] coordinates {(0,40)};
\end{axis}
\node[font=\fontsize{11.3}{13}\selectfont\bfseries] at (425pt,-36.5pt) {Time (minutes)};
\node[font=\fontsize{11.3}{13}\selectfont\bfseries, rotate=90] at (-33.5pt,188.5pt) {MW};
\end{tikzpicture}
\end{document}
